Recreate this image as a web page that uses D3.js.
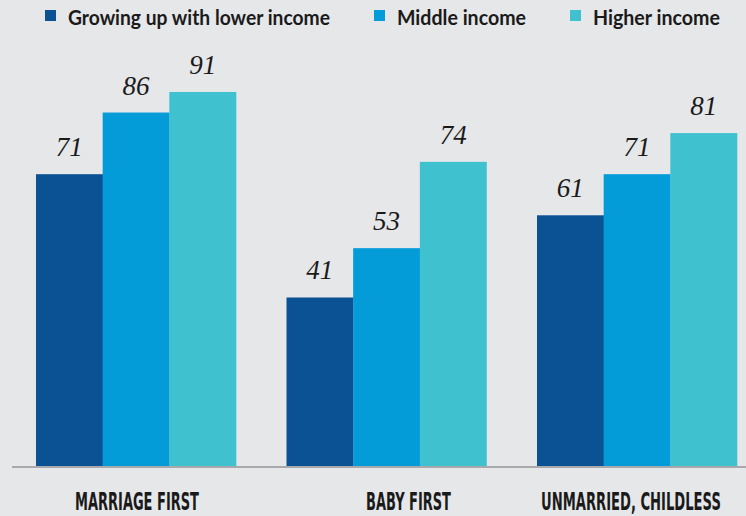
<!DOCTYPE html>
<html>
<head>
<meta charset="utf-8">
<script src="https://cdn.jsdelivr.net/npm/d3@7"></script>
<style>
  html, body { margin: 0; padding: 0; background: #e6e7e9; }
  svg { display: block; }
</style>
</head>
<body>
<svg id="chart" width="746" height="516"></svg>
<script>
const categories = ["MARRIAGE FIRST", "BABY FIRST", "UNMARRIED, CHILDLESS"];
const seriesNames = ["Growing up with lower income", "Middle income", "Higher income"];
const lowerIncome = [71, 41, 61];
const middleIncome = [86, 53, 71];
const higherIncome = [91, 74, 81];
const colors = ["#0a5293", "#049cd8", "#3fc1cf"];

const seriesValues = [lowerIncome, middleIncome, higherIncome];
const W = 746, H = 516;
const svg = d3.select("#chart");
svg.append("rect").attr("width", W).attr("height", H).attr("fill", "#e6e7e9");

const baseY = 466;
const y = d3.scaleLinear().domain([0, 100]).range([baseY, baseY - 411]);
const step = 250.5;
const x0 = d3.scaleBand().domain(categories).range([36, 36 + step * 3]).paddingInner(0).paddingOuter(0);
const groupW = 200;
const x1 = d3.scaleBand().domain(seriesNames).range([0, groupW]);

const groups = svg.append("g").selectAll("g").data(categories).join("g")
  .attr("transform", c => `translate(${x0(c)},0)`);

const rows = (c, i) => seriesNames.map((s, k) => ({s, v: seriesValues[k][i], k}));

groups.selectAll("rect").data(rows)
  .join("rect")
  .attr("x", d => x1(d.s))
  .attr("width", x1.bandwidth() + 0.3)
  .attr("y", d => y(d.v))
  .attr("height", d => baseY - y(d.v))
  .attr("fill", d => colors[d.k]);

groups.selectAll("text.val").data(rows)
  .join("text").attr("class", "val")
  .attr("x", d => x1(d.s) + x1.bandwidth() / 2)
  .attr("y", d => y(d.v) - 18)
  .attr("text-anchor", "middle")
  .attr("font-family", "'Liberation Serif', serif")
  .attr("font-style", "italic")
  .attr("font-size", 27)
  .attr("fill", "#1a1a1a")
  .text(d => d.v);

// baseline
svg.append("line").attr("x1", 12).attr("x2", W).attr("y1", baseY + 1).attr("y2", baseY + 1)
  .attr("stroke", "#a7a9ac").attr("stroke-width", 2);

// category labels (condensed bold via horizontal scale)
const labelCenter = [137, 408.5, 631];
const labelWidth = [124, 85, 180];
svg.selectAll("text.cat").data(categories).join("text").attr("class", "cat")
  .attr("x", 0)
  .attr("y", 0)
  .attr("text-anchor", "middle")
  .attr("font-family", "'DejaVu Sans', sans-serif")
  .attr("font-weight", "bold")
  .attr("font-size", 24.5)
  .attr("fill", "#1a1a1a")
  .text(c => c)
  .each(function(c, i) {
    const w = this.getComputedTextLength();
    const sx = labelWidth[i] / w;
    d3.select(this).attr("transform", `translate(${labelCenter[i]},509.5) scale(${sx},1)`);
  });

// legend
const legendX = [45, 374, 570];
const legendTextW = [262, 129, 127];
const lg = svg.append("g").selectAll("g").data(seriesNames).join("g")
  .attr("transform", (s, i) => `translate(${legendX[i]},0)`);
lg.append("rect").attr("x", 0).attr("y", 10).attr("width", 11).attr("height", 11)
  .attr("fill", (s, i) => colors[i]);
lg.append("text").attr("x", 23).attr("y", 25)
  .attr("font-family", "Lato, sans-serif").attr("font-weight", "bold")
  .attr("font-size", 20).attr("fill", "#1a1a1a")
  .attr("textLength", (s, i) => legendTextW[i])
  .attr("lengthAdjust", "spacingAndGlyphs")
  .text(s => s);
</script>
</body>
</html>
